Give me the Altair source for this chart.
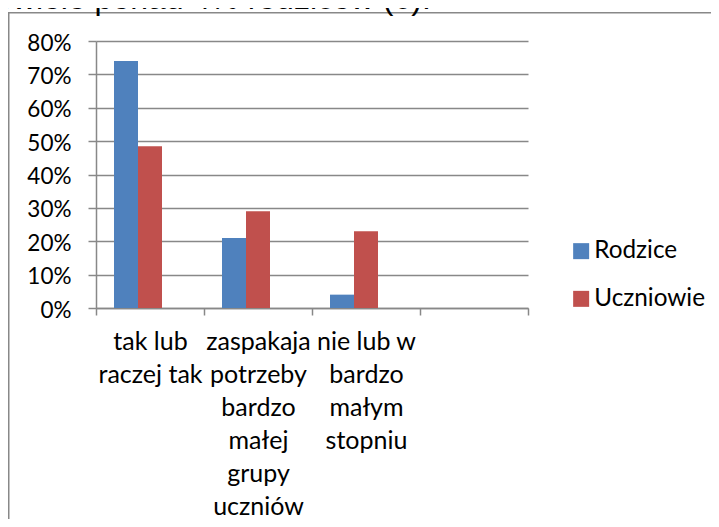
import altair as alt
import pandas as pd

# ---- data ----
categories = [
    "tak lub|raczej tak",
    "zaspakaja|potrzeby|bardzo|małej|grupy|uczniów",
    "nie lub w|bardzo|małym|stopniu",
    " ",
]
series = ["Rodzice", "Uczniowie"]
rodzice = [0.74, 0.21, 0.04]
uczniowie = [0.485, 0.29, 0.23]
y_ticks = [0, 0.1, 0.2, 0.3, 0.4, 0.5, 0.6, 0.7, 0.8]
colors = ["#4F81BD", "#C0504D"]
top_text = "owiele ponad 4% rodziców (6)."

rows = []
for i, v in enumerate(rodzice):
    rows.append({"kat": categories[i], "seria": "Rodzice", "val": v})
for i, v in enumerate(uczniowie):
    rows.append({"kat": categories[i], "seria": "Uczniowie", "val": v})
df = pd.DataFrame(rows)

FONT = "Lato"
GRAY = "#888888"

bars = alt.Chart(df).mark_bar().encode(
    x=alt.X(
        "kat:N",
        scale=alt.Scale(domain=categories, paddingInner=0, paddingOuter=0),
        axis=alt.Axis(
            title=None,
            labelAngle=0,
            labelExpr="split(datum.label, '|')",
            labelFont=FONT,
            labelFontSize=25,
            labelColor="black",
            labelLineHeight=33,
            labelPadding=14,
            labelOverlap=False,
            labelBound=False,
            labelLimit=0,
            tickBand="extent",
            tickSize=7,
            tickColor=GRAY,
            tickWidth=1.5,
            domainColor=GRAY,
            domainWidth=1.5,
            grid=False,
        ),
    ),
    xOffset=alt.XOffset(
        "seria:N",
        scale=alt.Scale(domain=series + ["_"], paddingInner=0, paddingOuter=0.75),
    ),
    y=alt.Y(
        "val:Q",
        scale=alt.Scale(domain=[0, 0.8], nice=False),
        axis=alt.Axis(
            title=None,
            values=y_ticks,
            format=".0%",
            labelFont=FONT,
            labelFontSize=22.5,
            labelColor="black",
            labelPadding=17,
            labelOffset=2,
            tickSize=8,
            tickColor=GRAY,
            tickWidth=1.5,
            domainColor=GRAY,
            domainWidth=1.5,
            grid=True,
            gridColor=GRAY,
            gridWidth=1.5,
        ),
    ),
    color=alt.Color(
        "seria:N",
        scale=alt.Scale(domain=series, range=colors),
        legend=alt.Legend(
            title=None,
            orient="none",
            legendX=473,
            legendY=198,
            symbolType="square",
            symbolSize=256,
            symbolStrokeWidth=0,
            labelFont=FONT,
            labelFontSize=24.3,
            labelColor="black",
            labelOffset=1,
            rowPadding=22.7,
            padding=0,
        ),
    ),
)

border = alt.Chart(pd.DataFrame({"a": [0]})).mark_rect(
    fillOpacity=0, stroke=GRAY, strokeWidth=1.5, clip=False
).encode(
    x=alt.value(-87.25), x2=alt.value(800),
    y=alt.value(-28.25), y2=alt.value(700),
)

header = alt.Chart(pd.DataFrame({"t": [top_text]})).mark_text(
    align="left", baseline="alphabetic", font="Liberation Sans",
    fontSize=32, color="black",
).encode(
    x=alt.value(-101), y=alt.value(-32), text="t:N",
)

chart = alt.layer(border, bars, header).properties(
    width=432,
    height=267,
    autosize=alt.AutoSizeParams(type="none"),
    padding={"left": 88, "top": 33, "right": 183, "bottom": 211},
).configure_view(stroke=None)

chart.save("out.html", embed_options={"renderer": "svg", "actions": False})
